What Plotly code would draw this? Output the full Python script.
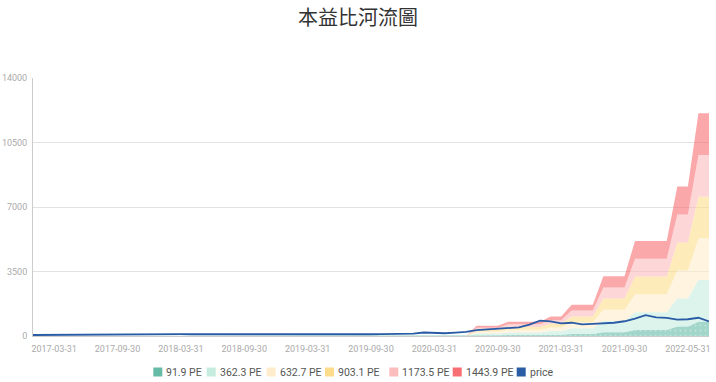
import plotly.graph_objects as go

# ---------------- data ----------------
dates = [
    "2017-01-31", "2017-02-28", "2017-03-31", "2017-04-30", "2017-05-31", "2017-06-30",
    "2017-07-31", "2017-08-31", "2017-09-30", "2017-10-31", "2017-11-30", "2017-12-31",
    "2018-01-31", "2018-02-28", "2018-03-31", "2018-04-30", "2018-05-31", "2018-06-30",
    "2018-07-31", "2018-08-31", "2018-09-30", "2018-10-31", "2018-11-30", "2018-12-31",
    "2019-01-31", "2019-02-28", "2019-03-31", "2019-04-30", "2019-05-31", "2019-06-30",
    "2019-07-31", "2019-08-31", "2019-09-30", "2019-10-31", "2019-11-30", "2019-12-31",
    "2020-01-31", "2020-02-29", "2020-03-31", "2020-04-30", "2020-05-31", "2020-06-30",
    "2020-07-31", "2020-08-31", "2020-09-30", "2020-10-31", "2020-11-30", "2020-12-31",
    "2021-01-31", "2021-02-28", "2021-03-31", "2021-04-30", "2021-05-31", "2021-06-30",
    "2021-07-31", "2021-08-31", "2021-09-30", "2021-10-31", "2021-11-30", "2021-12-31",
    "2022-03-31", "2022-04-30", "2022-05-31", "2022-06-30", "2022-07-31",
]

x_tick_labels = ["2017-03-31", "2017-09-30", "2018-03-31", "2018-09-30", "2019-03-31",
                 "2019-09-30", "2020-03-31", "2020-09-30", "2021-03-31", "2021-09-30",
                 "2022-05-31"]

price = [
    55, 60, 70, 75, 80, 85, 90, 95, 90, 95, 100, 95,
    100, 105, 100, 95, 100, 105, 100, 95, 90, 85, 90, 95,
    95, 90, 85, 80, 85, 90, 85, 90, 95, 100, 105, 110,
    130, 190, 160, 150, 180, 220, 320, 360, 400, 430, 470, 620,
    830, 790, 690, 720, 630, 660, 670, 720, 800, 940, 1130, 1010,
    985, 890, 910, 990, 790,
]

eps = [0.0] * 42 + [
    0.381, 0.381, 0.381,
    0.540, 0.540, 0.540, 0.540,
    0.734, 0.734,
    1.177, 1.177, 1.177,
    2.247, 2.247, 2.247,
    3.574, 3.574, 3.574, 3.574,
    5.617, 5.617,
    8.373, 8.373,
]

pe_levels = [91.9, 362.3, 632.7, 903.1, 1173.5, 1443.9]
band_names = ["91.9 PE", "362.3 PE", "632.7 PE", "903.1 PE", "1173.5 PE", "1443.9 PE"]
price_name = "price"

y_ticks = [0, 3500, 7000, 10500, 14000]

# ---------------- style ----------------
band_rgb = [(102, 187, 166), (198, 236, 224), (254, 236, 204),
            (253, 221, 140), (251, 188, 189), (246, 110, 114)]
price_color = "#2a5ba5"

W, H = 716, 382
L, R, T, B = 33, 7, 78, 46
PW, PH = W - L - R, H - T - B

fig = go.Figure()

for k, (pe, name, rgb) in enumerate(zip(pe_levels, band_names, band_rgb)):
    vals = [e * pe for e in eps]
    kw = {}
    if k == 0:
        kw["fillpattern"] = dict(shape=".", size=5, solidity=0.12,
                                 bgcolor="rgba(%d,%d,%d,0.6)" % rgb,
                                 fgcolor="rgba(255,255,255,0.6)")
    fig.add_trace(go.Scatter(
        x=dates, y=vals, name=name, mode="lines",
        line=dict(width=0, color="rgb(%d,%d,%d)" % rgb),
        fill="tozeroy" if k == 0 else "tonexty",
        fillcolor="rgba(%d,%d,%d,0.6)" % rgb,
        showlegend=False, hoverinfo="skip", **kw))

fig.add_trace(go.Scatter(
    x=dates, y=price, name=price_name, mode="lines",
    line=dict(width=1.8, color=price_color), showlegend=False))

# ---------------- manual legend ----------------
legend_names = band_names + [price_name]
legend_colors = ["rgb(%d,%d,%d)" % c for c in band_rgb] + [price_color]
legend_sq_left = [153.3, 206.7, 266.7, 325.0, 389.3, 452.7, 516.7]
legend_cy = 372
sq = 9

def px2x(px):
    return (px - L) / PW

def py2y(py):
    return (H - B - py) / PH

shapes = [dict(type="line", xref="paper", yref="y", x0=px2x(L + 1), x1=1,
               y0=14000, y1=14000, layer="below",
               line=dict(color="white", width=2))]
annotations = []
for name, col, sx in zip(legend_names, legend_colors, legend_sq_left):
    shapes.append(dict(type="rect", xref="paper", yref="paper",
                       x0=px2x(sx), x1=px2x(sx + sq),
                       y0=py2y(legend_cy + sq / 2), y1=py2y(legend_cy - sq / 2),
                       fillcolor=col, line=dict(width=0)))
    annotations.append(dict(text=name, xref="paper", yref="paper",
                            x=px2x(sx + sq + 2), y=py2y(legend_cy),
                            xanchor="left", yanchor="middle", showarrow=False,
                            font=dict(size=10.5, color="#555", family="Roboto")))

fig.update_layout(
    width=W, height=H,
    margin=dict(l=L, r=R, t=T, b=B, autoexpand=False),
    paper_bgcolor="white", plot_bgcolor="white",
    font=dict(family="Roboto", color="#999"),
    title=dict(text="本益比河流圖", x=0.5, xanchor="center",
               y=1 - 17.5 / H, yref="container", yanchor="middle",
               font=dict(family="Noto Sans CJK TC", size=20, color="#333")),
    showlegend=False,
    shapes=shapes, annotations=annotations,
    xaxis=dict(type="category", categoryorder="array", categoryarray=dates,
               range=[0, len(dates) - 1], showgrid=False,
               showline=True, linecolor="#cccccc", linewidth=1,
               tickvals=x_tick_labels, ticktext=x_tick_labels, ticks="",
               tickfont=dict(size=9, color="#aaaaaa"), ticklabelstandoff=4),
    yaxis=dict(range=[0, 14000], tickvals=y_ticks, ticktext=[str(v) for v in y_ticks],
               showgrid=True, gridcolor="#e2e2e2", gridwidth=1, zeroline=False,
               showline=True, linecolor="#cccccc", linewidth=1, ticks="",
               tickfont=dict(size=9, color="#aaaaaa"), ticklabelstandoff=3),
)

fig.write_html("out.html")
